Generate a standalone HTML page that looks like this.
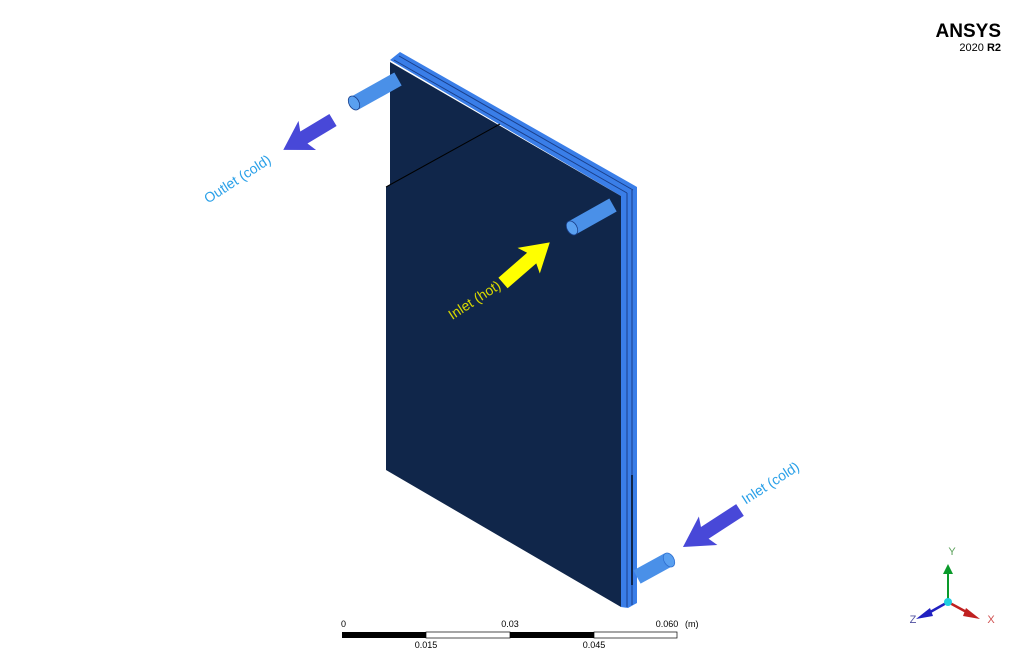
<!DOCTYPE html>
<html><head><meta charset="utf-8"><style>
html,body{margin:0;padding:0;background:#fff;}
svg{display:block;font-family:"Liberation Sans",sans-serif;}
</style></head><body>
<svg width="1020" height="664" viewBox="0 0 1020 664">
<!-- blue back strips -->
<polygon points="390,60 400,52 637,187 637,603 628,608 621,607 621,196" fill="#3a7ee8"/>
<line x1="399" y1="56" x2="633" y2="190" stroke="#1a3f8a" stroke-width="1"/>
<line x1="632" y1="190" x2="632" y2="605" stroke="#1a3f8a" stroke-width="1"/>
<line x1="394" y1="60" x2="627" y2="193" stroke="#1a3f8a" stroke-width="1"/>
<line x1="627" y1="193" x2="627" y2="607" stroke="#1a3f8a" stroke-width="1"/>
<!-- dark front plate -->
<polygon points="390,62 621,196 621,607 386,470 386,187 390,185" fill="#10264a"/>
<line x1="386" y1="187" x2="500" y2="124" stroke="#000" stroke-width="1"/>
<rect x="631" y="475" width="2" height="110" fill="#10264a"/>
<!-- cylinders -->
<g>
<line x1="355" y1="103" x2="398" y2="79" stroke="#4a90e8" stroke-width="15"/>
<ellipse cx="354" cy="103" rx="5" ry="7.5" transform="rotate(-30 354 103)" fill="#5aa0f0" stroke="#1a3f8a" stroke-width="0.8"/>
<line x1="572" y1="228" x2="613" y2="205" stroke="#4a90e8" stroke-width="15"/>
<ellipse cx="572" cy="228" rx="5" ry="7.5" transform="rotate(-30 572 228)" fill="#5aa0f0" stroke="#1a3f8a" stroke-width="0.8"/>
<line x1="637" y1="577" x2="668" y2="560" stroke="#4a90e8" stroke-width="15"/>
<ellipse cx="669" cy="560" rx="5" ry="7.5" transform="rotate(-30 669 560)" fill="#5aa0f0" stroke="#3070d0" stroke-width="0.8"/>
</g>
<!-- arrows -->
<polygon points="0,-7 34,-7 30,-17 58,0 30,17 34,7 0,7" fill="#4848d8" transform="translate(333,120) rotate(149)"/>
<polygon points="0,-7 38,-7 34,-17 62,0 34,17 38,7 0,7" fill="#ffff00" transform="translate(503,283) rotate(-41)"/>
<polygon points="0,-7 42,-7 38,-17 68,0 38,17 42,7 0,7" fill="#4848d8" transform="translate(740,510) rotate(147)"/>
<!-- labels -->
<text x="240" y="183" font-size="14" fill="#2aa0e8" text-anchor="middle" transform="rotate(-33 240 183)">Outlet (cold)</text>
<text x="477" y="304" font-size="14" fill="#d8d800" text-anchor="middle" transform="rotate(-33 477 304)">Inlet (hot)</text>
<text x="773" y="487" font-size="14" fill="#2aa0e8" text-anchor="middle" transform="rotate(-33 773 487)">Inlet (cold)</text>
<!-- ANSYS logo -->
<text x="1001" y="37" font-size="19" font-weight="bold" fill="#000" text-anchor="end">ANSYS</text>
<text x="1001" y="51" font-size="11" fill="#000" text-anchor="end">2020 <tspan font-weight="bold">R2</tspan></text>
<!-- scale bar -->
<rect x="342" y="632" width="84" height="6" fill="#000"/>
<rect x="426" y="632" width="84" height="6" fill="#fff" stroke="#000" stroke-width="0.7"/>
<rect x="510" y="632" width="84" height="6" fill="#000"/>
<rect x="594" y="632" width="83" height="6" fill="#fff" stroke="#000" stroke-width="0.7"/>
<g font-size="9" fill="#000">
<text x="341" y="627">0</text>
<text x="510" y="627" text-anchor="middle">0.03</text>
<text x="667" y="627" text-anchor="middle">0.060</text>
<text x="685" y="627">(m)</text>
<text x="426" y="648" text-anchor="middle">0.015</text>
<text x="594" y="648" text-anchor="middle">0.045</text>
</g>
<!-- triad -->
<line x1="948" y1="600" x2="948" y2="572" stroke="#0a9a2a" stroke-width="2"/>
<polygon points="943,574 953,574 948,564" fill="#0a9a2a"/>
<line x1="948" y1="602" x2="972" y2="615" stroke="#c02020" stroke-width="2.5"/>
<polygon points="966,608 980,619 963,616" fill="#c02020"/>
<line x1="948" y1="602" x2="925" y2="615" stroke="#2020c0" stroke-width="2.5"/>
<polygon points="930,608 916,619 933,616" fill="#2020c0"/>
<circle cx="948" cy="602" r="4" fill="#20d0e0"/>
<text x="952" y="555" font-size="11" fill="#5aa05a" text-anchor="middle">Y</text>
<text x="991" y="623" font-size="11" fill="#d05050" text-anchor="middle">X</text>
<text x="913" y="623" font-size="11" fill="#5050a0" text-anchor="middle">Z</text>
</svg>
</body></html>
